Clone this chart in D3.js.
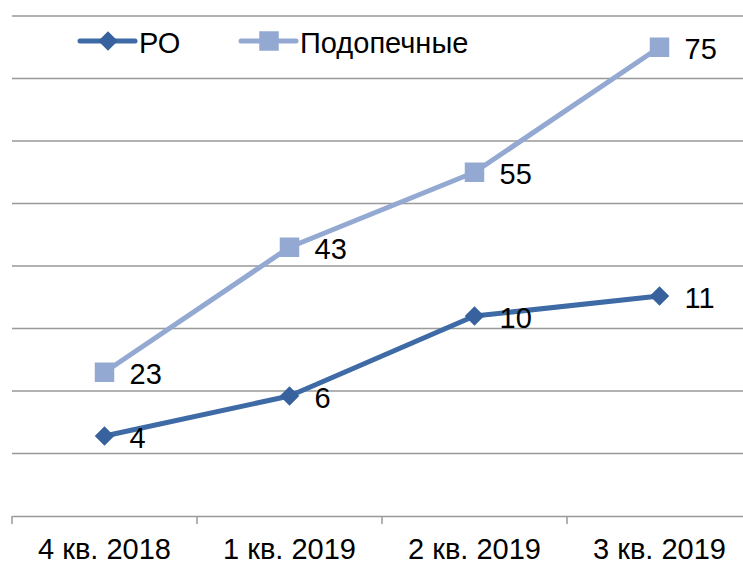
<!DOCTYPE html>
<html>
<head>
<meta charset="utf-8">
<script src="https://cdn.jsdelivr.net/npm/d3@7"></script>
<style>
  body { margin: 0; background: #fff; }
  svg { display: block; font-family: "Liberation Sans", Arial, sans-serif; }
</style>
</head>
<body>
<div id="chart"></div>
<script>
const categories = ["4 кв. 2018", "1 кв. 2019", "2 кв. 2019", "3 кв. 2019"];
const roValues = [4, 6, 10, 11];
const wardValues = [23, 43, 55, 75];
const seriesNames = ["РО", "Подопечные"];
const gridTicks = [10, 20, 30, 40, 50, 60, 70, 80];

const width = 743, height = 564;
const plotLeft = 12, plotRight = 752, plotTop = 16, plotBottom = 516;
const fontSize = 29;

const roColor = "#3E6AA5";
const roMarker = "#37629D";
const wardColor = "#93A9D2";

const svg = d3.select("#chart").append("svg")
    .attr("width", width)
    .attr("height", height)
    .attr("viewBox", [0, 0, width, height]);

const x = d3.scaleBand()
    .domain(categories)
    .range([plotLeft, plotRight]);

// primary axis for Подопечные, hidden secondary axis for РО
const y = d3.scaleLinear().domain([0, 80]).range([plotBottom, plotTop]);
const y2 = d3.scaleLinear().domain([0, 25]).range([plotBottom, plotTop]);

svg.append("g")
    .selectAll("line")
    .data(gridTicks)
    .join("line")
        .attr("x1", plotLeft)
        .attr("x2", width)
        .attr("y1", d => y(d))
        .attr("y2", d => y(d))
        .attr("stroke", "#999")
        .attr("stroke-width", 1.5);

svg.append("g")
    .attr("transform", `translate(0,${plotBottom})`)
    .call(d3.axisBottom(x).tickSize(0).tickPadding(22))
    .call(g => g.select(".domain").attr("stroke", "#999").attr("stroke-width", 1.5))
    .call(g => g.selectAll(".tick text")
        .attr("font-size", fontSize)
        .attr("font-family", "Liberation Sans, Arial, sans-serif")
        .attr("fill", "#000"));

// category separators
svg.append("g")
    .selectAll("line")
    .data(categories)
    .join("line")
        .attr("x1", d => x(d))
        .attr("x2", d => x(d))
        .attr("y1", plotBottom)
        .attr("y2", plotBottom + 8)
        .attr("stroke", "#999")
        .attr("stroke-width", 1.5);

const cx = d => x(d) + x.bandwidth() / 2;

const wardLine = d3.line()
    .x((d, i) => cx(categories[i]))
    .y(d => y(d));

const roLine = d3.line()
    .x((d, i) => cx(categories[i]))
    .y(d => y2(d));

svg.append("path")
    .datum(wardValues)
    .attr("fill", "none")
    .attr("stroke", wardColor)
    .attr("stroke-width", 5)
    .attr("stroke-linejoin", "round")
    .attr("d", wardLine);

svg.append("path")
    .datum(roValues)
    .attr("fill", "none")
    .attr("stroke", roColor)
    .attr("stroke-width", 5)
    .attr("stroke-linejoin", "round")
    .attr("d", roLine);

const square = d3.symbol().type(d3.symbolSquare).size(380);
const diamond = d3.symbol().type(d3.symbolSquare).size(190); // rotated 45°

svg.append("g")
    .selectAll("path")
    .data(wardValues)
    .join("path")
        .attr("transform", (d, i) => `translate(${cx(categories[i])},${y(d)})`)
        .attr("d", square)
        .attr("fill", wardColor);

svg.append("g")
    .selectAll("path")
    .data(roValues)
    .join("path")
        .attr("transform", (d, i) => `translate(${cx(categories[i])},${y2(d)}) rotate(45)`)
        .attr("d", diamond)
        .attr("fill", roMarker);

const labels = svg.append("g")
    .attr("font-size", fontSize)
    .attr("fill", "#000")
    .attr("dominant-baseline", "central");

labels.selectAll("text.w")
    .data(wardValues)
    .join("text")
        .attr("class", "w")
        .attr("x", (d, i) => cx(categories[i]) + 25)
        .attr("y", d => y(d) + 2)
        .text(d => d);

labels.selectAll("text.r")
    .data(roValues)
    .join("text")
        .attr("class", "r")
        .attr("x", (d, i) => cx(categories[i]) + 25)
        .attr("y", d => y2(d) + 2)
        .text(d => d);

// legend
const legend = svg.append("g").attr("font-size", fontSize);
const legendItems = [
    {name: seriesNames[0], color: roColor, fill: roMarker, sym: diamond, rot: 45, x: 80},
    {name: seriesNames[1], color: wardColor, fill: wardColor, sym: square, rot: 0, x: 241}
];
legendItems.forEach(d => {
    const g = legend.append("g").attr("transform", `translate(${d.x},41)`);
    g.append("line")
        .attr("x1", 0).attr("x2", 55)
        .attr("stroke", d.color)
        .attr("stroke-width", 5)
        .attr("stroke-linecap", "round");
    g.append("path")
        .attr("transform", `translate(28,0) rotate(${d.rot})`)
        .attr("d", d.sym)
        .attr("fill", d.fill);
    g.append("text")
        .attr("x", 59)
        .attr("y", 2)
        .attr("dominant-baseline", "central")
        .text(d.name);
});
</script>
</body>
</html>
